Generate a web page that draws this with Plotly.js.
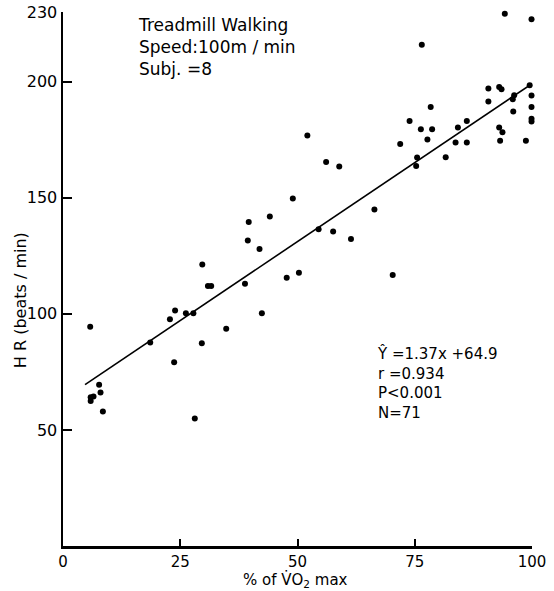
<!DOCTYPE html>
<html><head><meta charset="utf-8">
<script src="https://cdn.plot.ly/plotly-3.0.1.min.js"></script>
<style>body{margin:0;background:#fff}</style>
</head><body>
<div id="chart" style="width:554px;height:591px"></div>
<script>
// % of VO2max
const pctVO2 = [94.2, 99.9, 76.5, 99.5, 100.2, 90.7, 93.0, 93.5, 96.2, 95.9, 99.9, 90.7, 78.4, 99.9, 96.0,
  73.9, 86.1, 99.9, 99.9, 76.3, 78.7, 84.2, 93.0, 93.7, 77.7, 71.9, 83.7, 86.1, 93.2, 98.7, 100.1,
  75.5, 75.3, 81.6, 52.1, 56.1, 58.9, 49.0, 66.4, 44.1, 39.6, 54.5, 57.6, 61.4, 39.4, 41.9, 29.7,
  30.9, 31.6, 38.8, 47.7, 50.3, 26.2, 27.8, 42.4, 34.8, 29.6, 70.3, 5.8, 22.8, 23.9, 18.6, 23.7,
  7.7, 8.0, 5.9, 6.5, 5.9, 8.5, 28.1];
// HR (beats/min)
const hr = [229.3, 226.9, 215.9, 198.5, 199.6, 197.1, 197.7, 196.7, 194.1, 192.4, 194.0, 191.4, 189.1, 189.1, 187.1,
  183.1, 183.1, 184.0, 182.8, 179.5, 179.5, 180.3, 180.3, 178.2, 175.1, 173.1, 173.8, 173.8, 174.5, 174.5, 174.5,
  167.3, 163.7, 167.4, 176.8, 165.4, 163.5, 149.7, 144.9, 141.9, 139.5, 136.4, 135.5, 132.2, 131.6, 127.9, 121.2,
  112.0, 112.0, 113.0, 115.5, 117.7, 100.3, 100.3, 100.3, 93.6, 87.3, 116.7, 94.4, 97.7, 101.4, 87.7, 79.1,
  69.5, 66.1, 64.1, 64.4, 62.4, 57.9, 54.9];
// regression line as drawn
const lineX = [4.7, 103.8];
const lineY = [69.5, 204.3];
const xTicks = [0, 25, 50, 75, 100];
const yTicks = [50, 100, 150, 200, 230];

const F = "DejaVu Sans";
const data = [
  {x: pctVO2, y: hr, type: 'scatter', mode: 'markers', cliponaxis: false,
   marker: {color: '#000', size: 6}, hoverinfo: 'skip'},
  {x: lineX, y: lineY, type: 'scatter', mode: 'lines', cliponaxis: false,
   line: {color: '#000', width: 1.6}, hoverinfo: 'skip'}
];
const axisCommon = {showgrid: false, zeroline: false, showline: true, linecolor: '#000', linewidth: 2.5,
  ticks: 'inside', ticklen: 9, tickwidth: 2, tickcolor: '#000'};
const layout = {
  width: 554, height: 591,
  margin: {l: 63, r: 22, t: 12, b: 45},
  paper_bgcolor: '#fff', plot_bgcolor: '#fff',
  showlegend: false,
  xaxis: Object.assign({}, axisCommon, {range: [0, 100], tickvals: xTicks, ticktext: xTicks.map(String),
    ticklen: 7, ticklabelstandoff: 0, tickfont: {family: F, size: 15, color: '#000'}}),
  yaxis: Object.assign({}, axisCommon, {range: [0, 230], tickvals: yTicks, ticktext: yTicks.map(String),
    ticklabelstandoff: 0, tickfont: {family: F, size: 16, color: '#000'}}),
  annotations: [
    {xref: 'paper', yref: 'paper', x: 0.156, y: 0.998, xanchor: 'left', yanchor: 'top', align: 'left', showarrow: false,
     text: 'Treadmill Walking<br>Speed:100m / min<br>Subj. =8', font: {family: F, size: 17, color: '#000'}},
    {xref: 'paper', yref: 'paper', x: 0.665, y: 0.382, xanchor: 'left', yanchor: 'top', align: 'left', showarrow: false,
     text: 'Ŷ =1.37x +64.9<br>r =0.934<br>P<0.001<br>N=71', font: {family: F, size: 15, color: '#000'}},
    {xref: 'paper', yref: 'paper', x: -0.09, y: 0.46, xanchor: 'center', yanchor: 'middle', textangle: -90, showarrow: false,
     text: 'H R (beats / min)', font: {family: F, size: 16, color: '#000'}},
    {xref: 'paper', yref: 'paper', x: 0.495, y: -0.063, xanchor: 'center', yanchor: 'middle', showarrow: false,
     text: '% of V\u0307O<sub>2</sub> max', font: {family: F, size: 15, color: '#000'}}
  ]
};
Plotly.newPlot('chart', data, layout, {displayModeBar: false, staticPlot: true});
</script>
</body></html>
